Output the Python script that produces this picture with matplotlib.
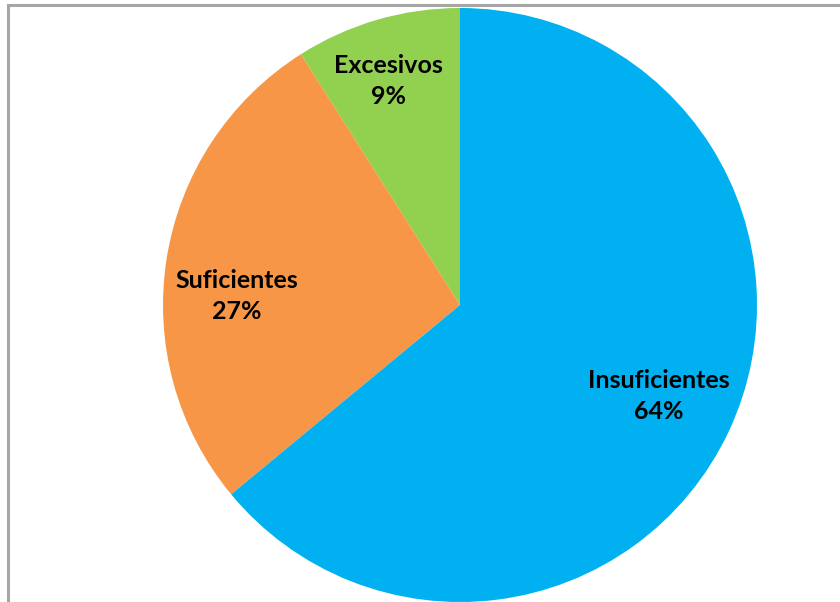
import numpy as np
import matplotlib
matplotlib.use("Agg")
import matplotlib.pyplot as plt
from matplotlib.patches import Rectangle

categories = ["Excesivos", "Suficientes", "Insuficientes"]
shares = [9, 27, 64]
colors = ["#92D050", "#F79646", "#00B0F0"]
# label anchor points in pie-radius units
label_xy = [(-0.242, 0.754), (-0.751, 0.03), (0.67, -0.306)]

W, H = 840, 602
fig = plt.figure(figsize=(W / 100, H / 100), dpi=100)
fig.patch.set_facecolor("white")

# chart-area frame (open at right and bottom)
fig.add_artist(Rectangle((8 / W, -0.1), 1.2, (H - 5) / H + 0.1,
                         transform=fig.transFigure, fill=False,
                         edgecolor="#A6A6A6", linewidth=2.2))

cx, cy, r = 460, 305, 297
ax = fig.add_axes([(cx - r) / W, (H - cy - r) / H, 2 * r / W, 2 * r / H])
wedges, _ = ax.pie(shares, colors=colors, startangle=90, counterclock=True,
                   radius=1.0, wedgeprops=dict(linewidth=0))
ax.set_xlim(-1, 1)
ax.set_ylim(-1, 1)
ax.set_aspect("equal")
ax.axis("off")

total = sum(shares)
for name, val, (x, y) in zip(categories, shares, label_xy):
    ax.text(x, y, f"{name}\n{round(100 * val / total)}%",
            ha="center", va="center", fontsize=18, fontweight="bold",
            family=["Lato", "DejaVu Sans"], color="black", linespacing=1.45)

fig.savefig("out.png", dpi=100)
